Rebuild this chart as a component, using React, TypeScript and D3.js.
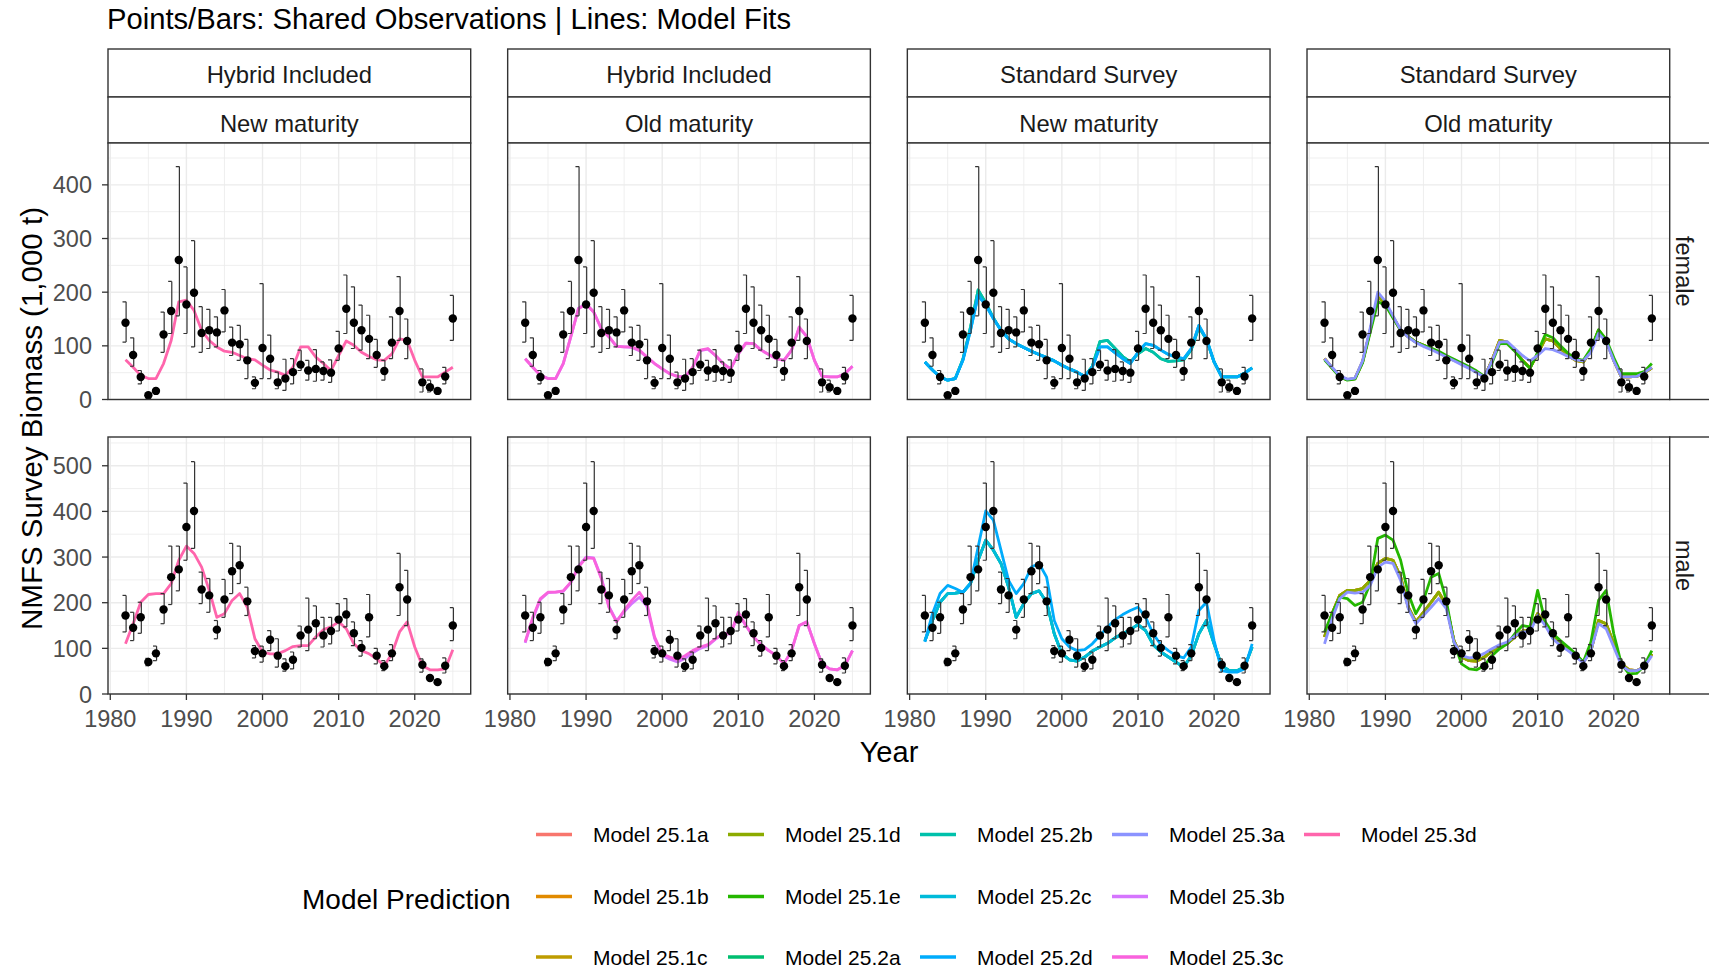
import React from 'react';
import * as d3 from 'd3';

// ---------------- DATA ----------------
const obsYears = [1982,1983,1984,1985,1986,1987,1988,1989,1990,1991,1992,1993,1994,1995,1996,1997,1998,1999,2000,2001,2002,2003,2004,2005,2006,2007,2008,2009,2010,2011,2012,2013,2014,2015,2016,2017,2018,2019,2021,2022,2023,2024,2025];

const femaleObs = [143,83,42,8,16,121,165,260,177,199,124,129,125,166,106,103,73,31,96,76,32,39,51,65,54,57,53,50,95,169,143,129,113,83,53,106,165,109,32,23,16,43,151];
const femaleLo  = [107,62,29,5,12,88,123,156,123,98,88,95,98,126,82,73,39,20,39,39,20,17,29,54,36,34,36,32,73,123,95,92,76,60,36,76,110,76,14,14,12,29,110];
const femaleHi  = [182,115,54,11,21,163,220,434,247,296,173,168,154,205,135,138,112,42,216,120,51,75,76,92,73,93,70,74,127,232,210,176,157,112,73,154,229,150,57,36,20,60,194];

const maleObs = [172,145,168,70,89,185,256,273,366,401,229,216,141,207,269,282,203,94,89,119,84,61,75,128,141,155,128,138,163,174,133,101,168,84,61,89,234,207,64,35,26,62,150];
const maleLo  = [136,117,133,62,73,154,196,226,293,319,198,179,121,168,220,242,172,79,70,95,59,50,55,103,95,121,103,110,138,147,106,83,125,66,51,73,172,150,48,30,22,46,117];
const maleHi  = [216,179,201,78,105,220,324,324,462,509,267,253,161,251,330,324,234,106,105,139,121,77,92,149,210,193,168,168,198,209,158,117,218,100,73,108,308,271,77,40,30,79,189];

const fitYears = [1982,1983,1984,1985,1986,1987,1988,1989,1990,1991,1992,1993,1994,1995,1996,1997,1998,1999,2000,2001,2002,2003,2004,2005,2006,2007,2008,2009,2010,2011,2012,2013,2014,2015,2016,2017,2018,2019,2020,2021,2022,2023,2024,2025];

// female fits
const fit3dF  = [74,60,45,39,39,67,110,182,185,166, 129,110,98,90,88,82,76,74,64,55, 51,45,60,98,98,79,67,54,82,109, 101,88,80,74,73,85,113,110,73,42, 42,42,51,60];
const fit3cF  = [76,60,45,39,39,67,117,169,178,163, 132,117,99,98,98,92,79,67,57,48, 43,42,60,92,95,82,67,57,85,105, 104,92,84,76,73,92,135,117,73,43, 42,42,48,62];
const fit3bF  = [76,60,45,39,39,67,117,170,178,163, 132,117,99,98,97,91,79,67,57,48, 43,42,59,91,94,82,67,57,85,105, 104,92,84,76,73,92,134,117,73,43, 42,42,48,62];
const fit2abF = [70,55,42,36,39,75,135,204,180,152, 129,113,104,97,90,84,78,72,64,57, 51,43,62,108,110,95,80,70,85,95, 88,76,71,72,74,93,135,112,70,42, 42,42,49,59];
const fit2cdF = [70,55,42,36,39,73,129,194,176,151, 129,113,104,97,90,84,78,72,64,57, 51,43,60,98,98,87,76,67,88,104, 101,92,84,79,76,95,138,113,70,42, 42,42,49,59];
const fit1F   = [76,59,43,37,39,70,129,191,179,154, 129,117,107,101,95,88,80,73,67,59, 51,42,73,110,107,92,73,59,85,113, 109,95,82,73,70,92,129,110,73,42, 42,43,49,59];
const fit1eF  = [74,58,42,36,38,68,125,182,176,152, 129,117,107,101,96,90,82,75,68,61, 53,43,68,104,104,90,72,58,88,121, 115,100,86,76,73,95,130,112,78,48, 48,48,52,67];
const fit3aF  = [76,60,44,38,40,72,133,200,183,156, 130,116,106,99,93,86,79,72,65,58, 50,42,72,107,108,95,82,72,82,95, 93,87,80,74,72,88,123,108,72,42, 42,43,50,60];

// male fits
const fit3dM  = [110,154,201,218,220,220,242,293,324,308, 278,227,168,176,205,220,190,121,92,88, 88,95,104,106,106,125,141,147,158,143, 110,95,88,77,62,88,136,158,103,62, 53,53,55,97];
const fit3cM  = [114,168,209,223,223,226,245,278,298,297, 253,190,158,183,205,223,198,125,88,81, 75,84,95,103,108,121,133,132,179,150, 125,108,95,84,66,95,150,158,110,66, 55,53,62,95];
const fit3bM  = [112,165,207,222,223,225,244,280,300,298, 255,192,160,180,198,212,192,122,85,76, 70,78,90,100,106,120,132,132,175,150, 125,108,95,84,66,95,150,158,110,66, 55,53,62,95];
const fit2abcM= [116,161,201,220,221,223,242,293,337,315, 286,234,168,198,220,226,201,132,88,75, 72,81,94,103,111,123,132,141,152,139, 108,92,81,70,59,84,132,161,110,62, 51,51,59,103];
const fit2dM  = [114,176,220,238,231,223,242,322,401,381, 315,249,220,242,278,286,256,161,121,103, 95,97,110,128,147,163,174,183,190,168, 132,108,95,84,79,103,183,201,117,51, 48,48,55,110];
const fit1M   = [125,176,216,227,227,231,249,286,297,293, 256,190,158,179,201,223,194,117,81,73, 72,81,94,103,110,125,138,138,176,154, 123,110,97,84,70,95,161,154,110,66, 53,51,59,88];
const fit1eM  = [136,176,212,209,194,201,242,341,348,337, 293,220,176,205,256,264,205,114,66,55, 53,62,84,99,110,132,150,147,227,158, 132,117,103,88,70,114,205,227,132,66, 44,45,62,95];
const fit3aM  = [110,165,209,223,221,223,238,278,289,286, 249,187,154,172,190,209,187,114,84,79, 81,89,99,108,114,127,136,136,172,150, 121,106,95,82,68,95,154,143,103,62, 51,51,59,84];

const modelNames = ['Model 25.1a','Model 25.1b','Model 25.1c','Model 25.1d','Model 25.1e','Model 25.2a','Model 25.2b','Model 25.2c','Model 25.2d','Model 25.3a','Model 25.3b','Model 25.3c','Model 25.3d'];
const modelColors = ['#F8766D','#E18A00','#BE9C00','#8CAB00','#24B700','#00BE70','#00C1AB','#00BBDA','#00ACFC','#8B93FF','#D575FE','#F962DD','#FF65AC'];
const femaleFits = [fit1F, fit1F, fit1F, fit1F, fit1eF, fit2abF, fit2abF, fit2cdF, fit2cdF, fit3aF, fit3bF, fit3cF, fit3dF];
const maleFits   = [fit1M, fit1M, fit1M, fit1M, fit1eM, fit2abcM, fit2abcM, fit2abcM, fit2dM, fit3aM, fit3bM, fit3cM, fit3dM];

const stripTop = ['Hybrid Included','Hybrid Included','Standard Survey','Standard Survey'];
const stripBottom = ['New maturity','Old maturity','New maturity','Old maturity'];
const panelModels = [[12],[10,11],[5,6,7,8],[0,1,2,3,4,9]];
const rowLabels = ['female','male'];

const xTicks = [1980,1990,2000,2010,2020];
const xMinor = [1985,1995,2005,2015,2025];
const yTicksF = [0,100,200,300,400];
const yMinorF = [50,150,250,350,450];
const yTicksM = [0,100,200,300,400,500];
const yMinorM = [50,150,250,350,450,550];

// ---------------- LAYOUT ----------------
const W = 1709, H = 974;
const FONT = "'Liberation Sans', Arial, sans-serif";
const panelLeft0 = 108, panelStep = 399.67, panelW = 362.7;
const rows = [
  { top: 143, bottom: 399.5, domain: [0, 478], ticks: yTicksF, minor: yMinorF },
  { top: 437, bottom: 694, domain: [0, 563], ticks: yTicksM, minor: yMinorM },
];
const xDomain: [number, number] = [1979.7, 2027.35];

export default function App() {
  const border = '#333333';
  const grid = '#EBEBEB';
  const panels: React.ReactNode[] = [];

  rows.forEach((row, ri) => {
    const y = d3.scaleLinear().domain(row.domain).range([row.bottom, row.top]);
    const obs = ri === 0 ? femaleObs : maleObs;
    const lo = ri === 0 ? femaleLo : maleLo;
    const hi = ri === 0 ? femaleHi : maleHi;
    const fits = ri === 0 ? femaleFits : maleFits;
    for (let ci = 0; ci < 4; ci++) {
      const left = panelLeft0 + ci * panelStep;
      const x = d3.scaleLinear().domain(xDomain).range([left, left + panelW]);
      const line = d3.line<number>().x((_, i) => x(fitYears[i])).y(v => y(v));
      const key = `p${ri}${ci}`;
      panels.push(
        <g key={key}>
          <rect x={left} y={row.top} width={panelW} height={row.bottom - row.top} fill="#fff" />
          {row.minor.map(t => <line key={'ym' + t} x1={left} x2={left + panelW} y1={y(t)} y2={y(t)} stroke={grid} strokeWidth={0.8} />)}
          {xMinor.map(t => <line key={'xm' + t} x1={x(t)} x2={x(t)} y1={row.top} y2={row.bottom} stroke={grid} strokeWidth={0.8} />)}
          {row.ticks.map(t => <line key={'yM' + t} x1={left} x2={left + panelW} y1={y(t)} y2={y(t)} stroke={grid} strokeWidth={1.4} />)}
          {xTicks.map(t => <line key={'xM' + t} x1={x(t)} x2={x(t)} y1={row.top} y2={row.bottom} stroke={grid} strokeWidth={1.4} />)}
          <g clipPath={`url(#clip${ri}${ci})`}>
            {panelModels[ci].map(mi => (
              <path key={'l' + mi} d={line(fits[mi]) || ''} fill="none" stroke={modelColors[mi]} strokeWidth={2.8} strokeLinejoin="round" />
            ))}
            {obsYears.map((yr, i) => {
              const cx = x(yr);
              return (
                <g key={'e' + yr} stroke="#333333" strokeWidth={1.2}>
                  <line x1={cx + 0.6} x2={cx + 0.6} y1={y(lo[i])} y2={y(hi[i])} />
                  <line x1={cx - 3} x2={cx + 0.6} y1={y(hi[i])} y2={y(hi[i])} />
                  <line x1={cx - 3} x2={cx + 0.6} y1={y(lo[i])} y2={y(lo[i])} />
                </g>
              );
            })}
            {obsYears.map((yr, i) => (
              <circle key={'o' + yr} cx={x(yr)} cy={y(obs[i])} r={4.2} fill="#000" />
            ))}
          </g>
          <rect x={left} y={row.top} width={panelW} height={row.bottom - row.top} fill="none" stroke={border} strokeWidth={1.4} />
          {ri === 1 && xTicks.map(t => (
            <g key={'xt' + t}>
              <line x1={x(t)} x2={x(t)} y1={row.bottom} y2={row.bottom + 6} stroke={border} strokeWidth={1.3} />
              <text x={x(t)} y={row.bottom + 33} textAnchor="middle" fontSize={23.5} fill="#4D4D4D" fontFamily={FONT}>{t}</text>
            </g>
          ))}
          {ci === 0 && row.ticks.map(t => (
            <g key={'yt' + t}>
              <line x1={left - 6} x2={left} y1={y(t)} y2={y(t)} stroke={border} strokeWidth={1.3} />
              <text x={left - 16} y={y(t) + 8.5} textAnchor="end" fontSize={23.5} fill="#4D4D4D" fontFamily={FONT}>{t}</text>
            </g>
          ))}
        </g>
      );
    }
    // right strip
    panels.push(
      <g key={'rs' + ri}>
        <rect x={panelLeft0 + 3 * panelStep + panelW} y={row.top} width={60} height={row.bottom - row.top} fill="#fff" stroke={border} strokeWidth={1.4} />
        <text transform={`translate(1684,${(row.top + row.bottom) / 2}) rotate(90)`} textAnchor="middle" dominantBaseline="central" fontSize={23.5} fill="#1A1A1A" fontFamily={FONT}>{rowLabels[ri]}</text>
      </g>
    );
  });

  const strips = stripTop.map((s, ci) => {
    const left = panelLeft0 + ci * panelStep;
    return (
      <g key={'st' + ci}>
        <rect x={left} y={49} width={panelW} height={48} fill="#fff" stroke={border} strokeWidth={1.4} />
        <rect x={left} y={97} width={panelW} height={46} fill="#fff" stroke={border} strokeWidth={1.4} />
        <text x={left + panelW / 2} y={83} textAnchor="middle" fontSize={23.8} fill="#1A1A1A" fontFamily={FONT}>{s}</text>
        <text x={left + panelW / 2} y={131.5} textAnchor="middle" fontSize={23.8} fill="#1A1A1A" fontFamily={FONT}>{stripBottom[ci]}</text>
      </g>
    );
  });

  const legendCols = [536, 728, 920, 1112, 1304];
  const legendRows = [834.5, 896.5, 957];
  const legend = modelNames.map((m, i) => {
    const col = Math.floor(i / 3), r = i % 3;
    const lx = legendCols[col], ly = legendRows[r];
    return (
      <g key={'lg' + i}>
        <line x1={lx} x2={lx + 36} y1={ly} y2={ly} stroke={modelColors[i]} strokeWidth={3.3} />
        <text x={lx + 57} y={ly + 7.5} fontSize={21} fill="#000" fontFamily={FONT}>{m}</text>
      </g>
    );
  });

  const clips = [];
  for (let ri = 0; ri < 2; ri++) for (let ci = 0; ci < 4; ci++) {
    const left = panelLeft0 + ci * panelStep;
    clips.push(<clipPath key={`c${ri}${ci}`} id={`clip${ri}${ci}`}><rect x={left} y={rows[ri].top} width={panelW} height={rows[ri].bottom - rows[ri].top} /></clipPath>);
  }

  return (
    <div style={{ position: 'absolute', left: 0, top: 0, width: W, height: H, overflow: 'hidden', background: '#fff' }}>
      <svg width={W} height={H} viewBox={`0 0 ${W} ${H}`} style={{ display: 'block' }}>
        <defs>{clips}</defs>
        <rect x={0} y={0} width={W} height={H} fill="#fff" />
        <text x={107} y={29} fontSize={29.2} fill="#000" fontFamily={FONT}>Points/Bars: Shared Observations | Lines: Model Fits</text>
        {strips}
        {panels}
        <text transform={`translate(42,418.5) rotate(-90)`} textAnchor="middle" fontSize={29.5} fill="#000" fontFamily={FONT}>NMFS Survey Biomass (1,000 t)</text>
        <text x={889} y={762} textAnchor="middle" fontSize={29} fill="#000" fontFamily={FONT}>Year</text>
        <text x={302} y={909} fontSize={28} fill="#000" fontFamily={FONT}>Model Prediction</text>
        {legend}
      </svg>
    </div>
  );
}
